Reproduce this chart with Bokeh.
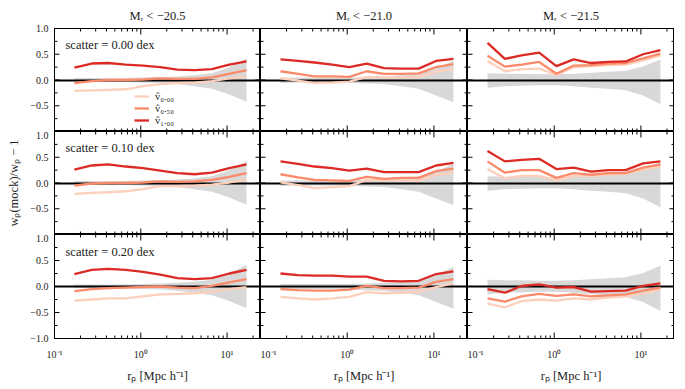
import math
from bokeh.plotting import figure
from bokeh.layouts import gridplot, row as brow, column as bcol
from bokeh.models import (Range1d, FixedTicker, LogAxis, LinearAxis, Spacer,
                          CustomJSTickFormatter, Label, Legend, LegendItem)
from bokeh.embed import file_html
from bokeh.resources import INLINE

# ---------------- data ----------------
rp = [0.17, 0.27, 0.42, 0.67, 1.06, 1.68, 2.66, 4.21, 6.67, 10.6, 16.8]

mag_labels = ["Mᵣ < −20.5", "Mᵣ < −21.0", "Mᵣ < −21.5"]
scatter_labels = ["scatter = 0.00 dex", "scatter = 0.10 dex", "scatter = 0.20 dex"]
alpha_labels = ["v̂₀.₀₀", "v̂₀.₅₀", "v̂₁.₀₀"]
alpha_colors = ["#fdd0bc", "#fb8a6a", "#dc2a25"]

x_major = [0.1, 1, 10]
x_minor = [0.2, 0.3, 0.4, 0.5, 0.6, 0.7, 0.8, 0.9, 2, 3, 4, 5, 6, 7, 8, 9, 20]
y_major = [-1, -0.5, 0, 0.5, 1]
y_minor = [-0.75, -0.25, 0.25, 0.75]
X_MIN, X_MAX = 0.1, 24.4
Y_MIN, Y_MAX = -1, 1

# Mr < -20.5
m205_s00_a000 = [-0.21, -0.20, -0.19, -0.18, -0.12, -0.08, -0.06, -0.05, -0.02, 0.03, 0.07]
m205_s00_a050 = [-0.06, -0.02, 0.00, 0.00, 0.01, 0.03, 0.02, 0.02, 0.05, 0.12, 0.19]
m205_s00_a100 = [0.24, 0.32, 0.33, 0.30, 0.28, 0.25, 0.20, 0.19, 0.21, 0.30, 0.36]
m205_s10_a000 = [-0.21, -0.19, -0.18, -0.16, -0.12, -0.06, -0.06, -0.05, -0.03, 0.01, 0.06]
m205_s10_a050 = [-0.05, -0.01, 0.00, 0.00, 0.01, 0.03, 0.02, 0.03, 0.06, 0.12, 0.19]
m205_s10_a100 = [0.26, 0.34, 0.36, 0.32, 0.29, 0.24, 0.19, 0.17, 0.20, 0.29, 0.36]
m205_s20_a000 = [-0.27, -0.25, -0.23, -0.23, -0.19, -0.15, -0.14, -0.13, -0.10, -0.05, -0.01]
m205_s20_a050 = [-0.09, -0.05, -0.03, -0.02, -0.01, 0.00, -0.02, -0.03, 0.01, 0.08, 0.14]
m205_s20_a100 = [0.24, 0.32, 0.34, 0.32, 0.28, 0.23, 0.16, 0.14, 0.16, 0.25, 0.32]
m205_band_lo = [-0.03, -0.03, -0.04, -0.04, -0.05, -0.06, -0.08, -0.12, -0.17, -0.28, -0.42]
m205_band_hi = [0.04, 0.04, 0.04, 0.04, 0.05, 0.06, 0.07, 0.09, 0.13, 0.25, 0.42]

# Mr < -21.0
m210_s00_a000 = [0.03, -0.01, -0.06, -0.05, -0.03, 0.06, 0.05, 0.05, 0.06, 0.16, 0.21]
m210_s00_a050 = [0.17, 0.12, 0.07, 0.07, 0.06, 0.17, 0.12, 0.12, 0.13, 0.25, 0.31]
m210_s00_a100 = [0.40, 0.37, 0.34, 0.30, 0.25, 0.32, 0.23, 0.22, 0.22, 0.37, 0.41]
m210_s10_a000 = [0.01, -0.04, -0.10, -0.08, -0.06, 0.06, 0.05, 0.05, 0.04, 0.16, 0.20]
m210_s10_a050 = [0.17, 0.11, 0.06, 0.05, 0.04, 0.12, 0.08, 0.10, 0.10, 0.23, 0.28]
m210_s10_a100 = [0.42, 0.37, 0.32, 0.29, 0.24, 0.28, 0.21, 0.21, 0.21, 0.34, 0.39]
m210_s20_a000 = [-0.20, -0.23, -0.25, -0.23, -0.20, -0.11, -0.13, -0.12, -0.10, -0.01, 0.06]
m210_s20_a050 = [-0.05, -0.07, -0.08, -0.08, -0.06, 0.01, -0.03, -0.03, -0.02, 0.09, 0.14]
m210_s20_a100 = [0.25, 0.22, 0.21, 0.21, 0.19, 0.19, 0.11, 0.10, 0.11, 0.24, 0.29]
m210_band_lo = [-0.06, -0.05, -0.05, -0.05, -0.06, -0.07, -0.08, -0.12, -0.17, -0.30, -0.43]
m210_band_hi = [0.05, 0.05, 0.05, 0.05, 0.05, 0.06, 0.07, 0.09, 0.13, 0.22, 0.38]

# Mr < -21.5
m215_s00_a000 = [0.37, 0.17, 0.21, 0.22, 0.10, 0.25, 0.27, 0.29, 0.30, 0.38, 0.48]
m215_s00_a050 = [0.47, 0.26, 0.30, 0.35, 0.12, 0.28, 0.29, 0.32, 0.33, 0.42, 0.51]
m215_s00_a100 = [0.72, 0.41, 0.48, 0.53, 0.27, 0.40, 0.33, 0.35, 0.36, 0.50, 0.58]
m215_s10_a000 = [0.27, 0.09, 0.14, 0.14, 0.05, 0.14, 0.14, 0.16, 0.18, 0.26, 0.32]
m215_s10_a050 = [0.42, 0.20, 0.25, 0.25, 0.10, 0.19, 0.16, 0.19, 0.19, 0.30, 0.36]
m215_s10_a100 = [0.62, 0.42, 0.45, 0.47, 0.27, 0.30, 0.22, 0.25, 0.25, 0.38, 0.42]
m215_s20_a000 = [-0.33, -0.40, -0.28, -0.25, -0.27, -0.23, -0.25, -0.21, -0.19, -0.14, -0.05]
m215_s20_a050 = [-0.23, -0.29, -0.19, -0.14, -0.18, -0.15, -0.19, -0.17, -0.15, -0.08, -0.02]
m215_s20_a100 = [-0.05, -0.12, 0.01, 0.04, -0.02, -0.01, -0.10, -0.09, -0.08, 0.01, 0.06]
m215_band_lo = [-0.15, -0.12, -0.11, -0.10, -0.10, -0.12, -0.15, -0.17, -0.20, -0.30, -0.47]
m215_band_hi = [0.13, 0.12, 0.12, 0.11, 0.11, 0.12, 0.14, 0.16, 0.18, 0.26, 0.40]

# rows: scatter 0.00, 0.10, 0.20 ; cols: magnitude threshold
series = [
    [[m205_s00_a000, m205_s00_a050, m205_s00_a100],
     [m210_s00_a000, m210_s00_a050, m210_s00_a100],
     [m215_s00_a000, m215_s00_a050, m215_s00_a100]],
    [[m205_s10_a000, m205_s10_a050, m205_s10_a100],
     [m210_s10_a000, m210_s10_a050, m210_s10_a100],
     [m215_s10_a000, m215_s10_a050, m215_s10_a100]],
    [[m205_s20_a000, m205_s20_a050, m205_s20_a100],
     [m210_s20_a000, m210_s20_a050, m210_s20_a100],
     [m215_s20_a000, m215_s20_a050, m215_s20_a100]],
]
bands = [(m205_band_lo, m205_band_hi), (m210_band_lo, m210_band_hi), (m215_band_lo, m215_band_hi)]

# ---------------- styling ----------------
FONT = "Liberation Serif"
FW = [206, 207, 207]
FH = [103, 103, 104]

x_fmt = CustomJSTickFormatter(code="""
const e = Math.round(Math.log10(tick));
const sup = {"-1": "\\u207b\\u00b9", "0": "\\u2070", "1": "\\u00b9", "2": "\\u00b2"};
return "10" + (sup[String(e)] || String(e));
""")


def y_fmt(hide_bottom):
    return CustomJSTickFormatter(args=dict(hide_bottom=hide_bottom), code="""
if (hide_bottom && Math.abs(tick + 1) < 1e-6) { return ""; }
const s = Math.abs(tick).toFixed(1);
return (tick < -1e-9 ? "\\u2212" : "") + s;
""")


def style_axis(ax, is_x, show):
    if is_x:
        ax.ticker = FixedTicker(ticks=x_major, minor_ticks=x_minor)
        ax.formatter = x_fmt
    else:
        ax.ticker = FixedTicker(ticks=y_major, minor_ticks=y_minor)
    ax.major_tick_in = 0
    ax.minor_tick_in = 0
    ax.major_tick_out = 0
    ax.minor_tick_out = 0
    ax.axis_line_color = "black"
    ax.axis_line_width = 1
    ax.major_label_text_font = FONT
    ax.major_label_text_font_size = "10px"
    ax.major_label_text_color = "#222222" if show else None
    ax.major_label_standoff = 6 if not is_x else 10
    ax.axis_label_text_font = FONT
    ax.axis_label_text_font_style = "normal"
    ax.axis_label_text_font_size = "12.5px"
    ax.axis_label_text_color = "#222222"


def add_ticks(p):
    # inward tick marks on all four frame edges (half of each dash is clipped by the frame)
    p.scatter(x=x_major + x_major, y=[Y_MIN] * len(x_major) + [Y_MAX] * len(x_major),
              marker="dash", angle=math.pi / 2, size=12, line_color="black", line_width=1)
    p.scatter(x=x_minor + x_minor, y=[Y_MIN] * len(x_minor) + [Y_MAX] * len(x_minor),
              marker="dash", angle=math.pi / 2, size=6, line_color="black", line_width=1)
    p.scatter(x=[X_MIN] * len(y_major) + [X_MAX] * len(y_major), y=y_major + y_major,
              marker="dash", size=10, line_color="black", line_width=1)
    p.scatter(x=[X_MIN] * len(y_minor) + [X_MAX] * len(y_minor), y=y_minor + y_minor,
              marker="dash", size=6, line_color="black", line_width=1)


rows = []
for r in range(3):
    row = []
    for c in range(3):
        p = figure(x_axis_type="log", x_range=Range1d(X_MIN, X_MAX), y_range=Range1d(Y_MIN, Y_MAX),
                   frame_width=FW[c], frame_height=FH[r],
                   output_backend="svg", toolbar_location=None,
                   min_border_left=0, min_border_right=0,
                   min_border_top=0, min_border_bottom=0,
                   background_fill_color="white", border_fill_color="white",
                   outline_line_color="black", outline_line_width=1)
        p.grid.visible = False
        p.add_layout(LogAxis(), "above")
        p.add_layout(LinearAxis(), "right")
        bottom_ax = p.below[0]
        left_ax = p.left[0]
        style_axis(bottom_ax, True, r == 2)
        for ax in p.above:
            style_axis(ax, True, False)
        style_axis(left_ax, False, c == 0)
        left_ax.formatter = y_fmt(r < 2)
        for ax in p.right:
            style_axis(ax, False, False)

        if r == 2:
            bottom_ax.axis_label = "rₚ [Mpc h⁻¹]"
            bottom_ax.axis_label_standoff = 6
        if c == 0:
            left_ax.axis_label = "wₚ(mock)/wₚ − 1" if r == 1 else " "
            left_ax.axis_label_standoff = 6

        if r == 0:
            p.title.text = mag_labels[c]
            p.title.align = "center"
            p.title.text_font = FONT
            p.title.text_font_style = "normal"
            p.title.text_font_size = "12.5px"
            p.title.text_color = "#222222"
            p.title.standoff = 11

        lo, hi = bands[c]
        p.varea(x=rp, y1=lo, y2=hi, fill_color="#d8d8d8", fill_alpha=1.0)
        p.hspan(y=[0], line_color="black", line_width=2)
        rends = []
        for k in range(3):
            rr = p.line(rp, series[r][c][k], line_color=alpha_colors[k], line_width=2.3)
            rends.append(rr)
        add_ticks(p)
        if c == 0:
            p.add_layout(Label(x=0.134, y=0.67, text=scatter_labels[r],
                               text_font=FONT, text_font_size="12.5px",
                               text_baseline="middle", text_color="#222222"))
        if r == 0 and c == 0:
            leg = Legend(items=[LegendItem(label=alpha_labels[k], renderers=[rends[k]])
                                for k in range(3)],
                         location=(80, 5), orientation="vertical",
                         padding=0, margin=0, spacing=0,
                         glyph_width=15, glyph_height=12, label_height=12,
                         label_standoff=6, label_text_font=FONT,
                         label_text_font_size="10.5px", label_text_color="#222222",
                         border_line_color=None, background_fill_alpha=0)
            p.add_layout(leg, "center")
        row.append(p)
    rows.append(row)

grid = gridplot(rows, toolbar_location=None)
layout = bcol(Spacer(width=10, height=1), brow(Spacer(width=4, height=10), grid))

open("out.html", "w").write(file_html(layout, INLINE))
